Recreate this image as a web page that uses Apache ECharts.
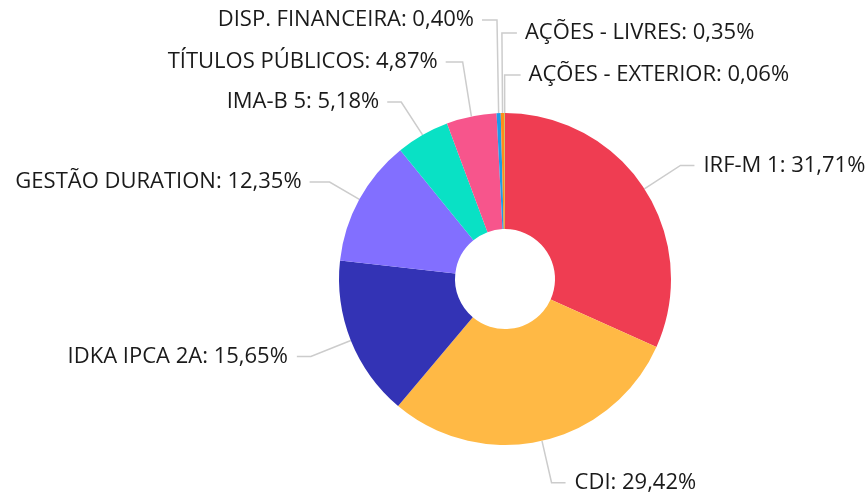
<!DOCTYPE html>
<html>
<head>
<meta charset="utf-8">
<script src="https://cdn.jsdelivr.net/npm/echarts@6/dist/echarts.min.js"></script>
<style>
html,body{margin:0;padding:0;background:#fff;}
#chart{width:867px;height:496px;}
</style>
</head>
<body>
<div id="chart"></div>
<script>
const categories = ['IRF-M 1','CDI','IDKA IPCA 2A','GESTÃO DURATION','IMA-B 5','TÍTULOS PÚBLICOS','DISP. FINANCEIRA','AÇÕES - LIVRES','AÇÕES - EXTERIOR'];
const values = [31.71, 29.42, 15.65, 12.35, 5.18, 4.87, 0.40, 0.35, 0.06];
const colors = ['#EF3D52','#FFB945','#3333B5','#826FFF','#09E1C5','#F7558C','#1E9BE8','#FF8C1A','#A0C33A'];

// label placement overrides (side, label-line height, corner shift) for crowded labels
const labelOverrides = {
  3: {side: -1, y: 182, len2: 20, dx: 8},
  4: {side: -1, y: 102, len2: 14, dx: 0},
  5: {side: -1, y: 62, len2: 17, dx: 0},
  6: {side: -1, y: 20, len2: 15, dx: 0},
  7: {side: 1, y: 33, len2: 15, dx: 0},
  8: {side: 1, y: 75, len2: 16, dx: 0}
};

const chart = echarts.init(document.getElementById('chart'));
chart.setOption({
  backgroundColor: '#fff',
  series: [{
    type: 'pie',
    center: [505, 279],
    radius: [50, 166],
    startAngle: 90,
    clockwise: true,
    avoidLabelOverlap: false,
    animation: false,
    data: categories.map((c, i) => ({name: c, value: values[i], itemStyle: {color: colors[i]}})),
    label: {
      show: true,
      fontFamily: 'Open Sans',
      fontSize: 22,
      color: '#1a1a1a',
      distanceToLabelLine: 9,
      padding: [6, 0, 0, 0],
      formatter: p => p.name + ': ' + p.value.toFixed(2).replace('.', ',') + '%'
    },
    labelLine: {
      show: true,
      length: 43,
      length2: 14,
      lineStyle: {color: '#ccc', width: 1.5}
    },
    labelLayout: function (params) {
      const cfg = labelOverrides[params.dataIndex];
      if (!cfg || !params.labelLinePoints) return {};
      const p0 = params.labelLinePoints[0];
      const x1 = params.labelLinePoints[1][0] + cfg.dx;
      const x2 = x1 + cfg.side * cfg.len2;
      return {
        x: x2 + cfg.side * 8,
        y: cfg.y,
        align: cfg.side > 0 ? 'left' : 'right',
        verticalAlign: 'middle',
        labelLinePoints: [[p0[0], p0[1]], [x1, cfg.y], [x2, cfg.y]]
      };
    },
    emphasis: {disabled: true}
  }]
});
</script>
</body>
</html>
